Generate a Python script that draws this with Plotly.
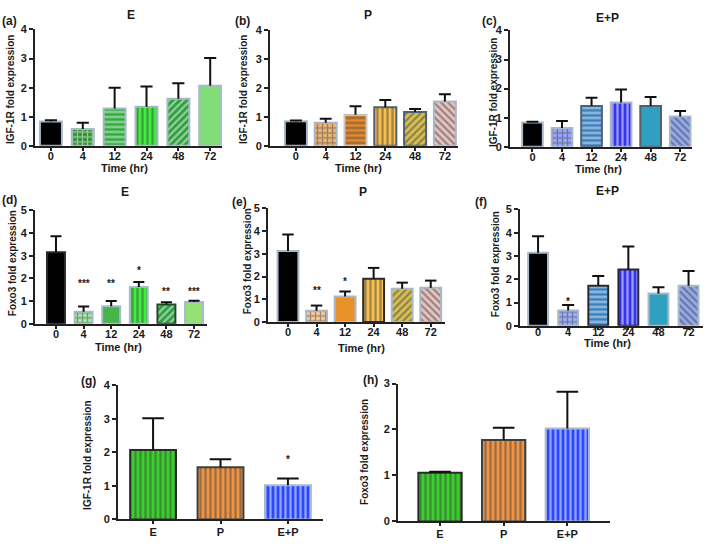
import plotly.graph_objects as go

W, H = 709, 546

# ---------------- data ----------------
time_labels = ["0", "4", "12", "24", "48", "72"]
group_labels = ["E", "P", "E+P"]

igf_E = [0.84, 0.58, 1.28, 1.34, 1.62, 2.07]
igf_E_err = [0.04, 0.21, 0.72, 0.70, 0.53, 0.95]
igf_P = [0.85, 0.80, 1.08, 1.34, 1.17, 1.54]
igf_P_err = [0.03, 0.14, 0.29, 0.25, 0.11, 0.25]
igf_EP = [0.84, 0.65, 1.40, 1.52, 1.40, 1.04]
igf_EP_err = [0.02, 0.24, 0.29, 0.45, 0.31, 0.19]

foxo_E = [3.16, 0.53, 0.78, 1.62, 0.85, 0.96]
foxo_E_err = [0.70, 0.23, 0.23, 0.22, 0.10, 0.06]
foxo_P = [3.13, 0.49, 1.12, 1.90, 1.46, 1.50]
foxo_P_err = [0.72, 0.23, 0.22, 0.48, 0.27, 0.32]
foxo_EP = [3.14, 0.66, 1.72, 2.42, 1.39, 1.72]
foxo_EP_err = [0.71, 0.23, 0.42, 0.99, 0.27, 0.63]

igf_72h = [2.07, 1.56, 1.02]
igf_72h_err = [0.95, 0.24, 0.20]
foxo_72h = [1.06, 1.77, 2.02]
foxo_72h_err = [0.02, 0.27, 0.80]

# significance marks and the level they are written at
stars_foxo_E = ["", "***", "**", "*", "**", "***"]
stars_foxo_E_level = [0, 1.79, 1.79, 2.36, 1.43, 1.43]
stars_foxo_P = ["", "**", "*", "", "", ""]
stars_foxo_P_level = [0, 1.38, 1.77, 0, 0, 0]
stars_foxo_EP = ["", "*", "", "", "", ""]
stars_foxo_EP_level = [0, 1.06, 0, 0, 0, 0]
stars_igf_72h = ["", "", "*"]
stars_igf_72h_level = [0, 0, 1.80]

# ---------------- styles ----------------
LB = "#a9b9c9"   # light bluish-grey bar border
DK = "#2a2a2a"
MG = "#506070"

sty_E = dict(
    bg=["#000000", "#2f8f2f", "#2eaa3e", "#3cf03c", "#2e9e3e", "#80dd78"],
    fg=["#000000", "#58d058", "#1c7a2a", "#1fbf1f", "#145e22", "#80dd78"],
    shape=["", "+", "-", "|", "/", ""],
    edge=[LB, LB, LB, LB, LB, LB])
sty_P = dict(
    bg=["#000000", "#f2b878", "#e88a2c", "#f8c04c", "#d8c050", "#e8c4c0"],
    fg=["#000000", "#c8783a", "#cf7020", "#e09a1c", "#8a7a2c", "#c49090"],
    shape=["", "+", "-", "|", "/", "\\"],
    edge=[LB, LB, "#c8c8c8", MG, MG, LB])
sty_EP = dict(
    bg=["#000000", "#9aa8ff", "#3a80c0", "#3434f0", "#30a0c0", "#94aaf0"],
    fg=["#000000", "#1222e0", "#1a5090", "#1010a8", "#2a8aa8", "#5070d0"],
    shape=["", "+", "-", "|", "", "\\"],
    edge=[LB, LB, MG, LB, MG, LB])
sty_Ed = dict(
    bg=["#000000", "#a6eaa6", "#46b446", "#3cf03c", "#2e9e3e", "#94e274"],
    fg=["#000000", "#42c242", "#3a9a3a", "#1fbf1f", "#145e22", "#94e274"],
    shape=["", "+", "", "|", "/", ""],
    edge=[DK, LB, LB, LB, "#244a2a", LB])
sty_Pe = dict(
    bg=["#000000", "#f8cc98", "#e8902a", "#f8c050", "#d8c050", "#e8c4c0"],
    fg=["#000000", "#d09050", "#d07820", "#e0a030", "#8a7a2c", "#c49090"],
    shape=["", "+", "", "|", "/", "\\"],
    edge=[LB, LB, LB, DK, LB, LB])
sty_EPf = dict(
    bg=["#000000", "#a0b0ff", "#3a80c0", "#3434f0", "#30a0c0", "#94aaf0"],
    fg=["#000000", "#1020e0", "#1a5090", "#1010a8", "#2a8aa8", "#5070d0"],
    shape=["", "+", "-", "|", "", "\\"],
    edge=[LB, LB, DK, DK, LB, LB])
sty_grp = dict(
    bg=["#38d02a", "#f09444", "#2a48ff"],
    fg=["#138a13", "#c06a20", "#1122aa"],
    shape=["|", "|", "|"],
    edge=[DK, "#3a4040", LB])

IGF_T = "IGF-1R fold expression"
FOX_T = "Foxo3 fold expression"

panels = [
    dict(lab="(a)", title="E", cats=time_labels, v=igf_E, e=igf_E_err, s=sty_E,
         x0=35, x1=222, yt=24, yb=143, ymax=4, xr=[-0.5, 5.37], w=0.69, cap=0.19, tl=3, so=-4,
         labpos=(9, 15), tpos=(131, 9), ytitle=IGF_T, ytpos=(10, 86), xtpos=(124, 166)),
    dict(lab="(b)", title="P", cats=time_labels, v=igf_P, e=igf_P_err, s=sty_P,
         x0=270, x1=458, yt=25, yb=143, ymax=4, xr=[-0.87, 5.44], w=0.74, cap=0.2, tl=3, so=-4,
         labpos=(242, 15), tpos=(368, 9), ytitle=IGF_T, ytpos=(243, 86), xtpos=(358, 166)),
    dict(lab="(c)", title="E+P", cats=time_labels, v=igf_EP, e=igf_EP_err, s=sty_EP,
         x0=510, x1=692, yt=25, yb=144, ymax=4, xr=[-0.76, 5.4], w=0.7, cap=0.2, tl=3, so=-4,
         labpos=(489, 15), tpos=(607, 12), ytitle=IGF_T, ytpos=(493, 89), xtpos=(598, 167)),
    dict(lab="(d)", title="E", cats=time_labels, v=foxo_E, e=foxo_E_err, s=sty_Ed,
         x0=35, x1=207, yt=209, yb=325, ymax=5, xr=[-0.76, 5.47], w=0.65, cap=0.2, tl=3, so=-4,
         labpos=(9, 198), tpos=(125, 190), ytitle=FOX_T, ytpos=(12, 263), xtpos=(119, 349),
         stars=stars_foxo_E, starlev=stars_foxo_E_level),
    dict(lab="(e)", title="P", cats=time_labels, v=foxo_P, e=foxo_P_err, s=sty_Pe,
         x0=268, x1=445, yt=207, yb=323, ymax=5, xr=[-0.7, 5.5], w=0.73, cap=0.2, tl=3, so=-4,
         labpos=(240, 200), tpos=(363, 190), ytitle=FOX_T, ytpos=(247, 261), xtpos=(361, 350),
         stars=stars_foxo_P, starlev=stars_foxo_P_level),
    dict(lab="(f)", title="E+P", cats=time_labels, v=foxo_EP, e=foxo_EP_err, s=sty_EPf,
         x0=520, x1=703, yt=208, yb=327, ymax=5, xr=[-0.6, 5.48], w=0.66, cap=0.2, tl=2, so=-7,
         labpos=(481, 200), tpos=(607, 189), ytitle=FOX_T, ytpos=(495, 264), xtpos=(607, 345),
         stars=stars_foxo_EP, starlev=stars_foxo_EP_level),
    dict(lab="(g)", title="", cats=group_labels, v=igf_72h, e=igf_72h_err, s=sty_grp,
         x0=118, x1=323, yt=388, yb=525, ymax=4, xr=[-0.52, 2.52], w=0.68, cap=0.16, tl=3, so=-2,
         labpos=(88, 383), tpos=None, ytitle=IGF_T, ytpos=(88, 460), xtpos=None,
         stars=stars_igf_72h, starlev=stars_igf_72h_level),
    dict(lab="(h)", title="", cats=group_labels, v=foxo_72h, e=foxo_72h_err, s=sty_grp,
         x0=398, x1=610, yt=386, yb=527, ymax=3, xr=[-0.66, 2.67], w=0.68, cap=0.17, tl=3, so=-2,
         labpos=(370, 382), tpos=None, ytitle=FOX_T, ytpos=(365, 456), xtpos=None),
]

FONT = "Liberation Sans, Arial, sans-serif"
TXT = "#1a1a1a"

fig = go.Figure()
layout = dict(width=W, height=H, margin=dict(l=0, r=0, t=0, b=0, pad=0),
              paper_bgcolor="white", plot_bgcolor="white", showlegend=False,
              font=dict(family=FONT, color=TXT))
annotations = []


def px(x, y):
    return x / W, 1 - y / H


for k, p in enumerate(panels):
    n = k + 1
    xs = "x" if n == 1 else f"x{n}"
    ys = "y" if n == 1 else f"y{n}"
    xk = "xaxis" if n == 1 else f"xaxis{n}"
    yk = "yaxis" if n == 1 else f"yaxis{n}"
    idx = list(range(len(p["cats"])))
    s = p["s"]
    fig.add_trace(go.Bar(
        x=idx, y=p["v"], width=p["w"], xaxis=xs, yaxis=ys,
        marker=dict(color=s["bg"], line=dict(color=s["edge"], width=2),
                    pattern=dict(shape=s["shape"], fgcolor=s["fg"],
                                 size=5, solidity=0.45, fillmode="overlay")),
        hoverinfo="skip"))
    # upper error bars with caps
    ex, ey = [], []
    for i, (val, err) in zip(idx, zip(p["v"], p["e"])):
        top = val + err
        ex += [i, i, None, i - p["cap"], i + p["cap"], None]
        ey += [val, top, None, top, top, None]
    fig.add_trace(go.Scatter(x=ex, y=ey, mode="lines", xaxis=xs, yaxis=ys,
                             line=dict(color="#111111", width=2), hoverinfo="skip"))

    layout[xk] = dict(domain=[p["x0"] / W, p["x1"] / W], range=p["xr"], anchor=ys,
                      showline=True, linecolor="#222222", linewidth=1.8,
                      ticks="outside", ticklen=p["tl"], tickwidth=1.5, tickcolor="#222222",
                      ticklabelstandoff=p["so"],
                      tickvals=idx, ticktext=p["cats"], showgrid=False, zeroline=False,
                      tickfont=dict(family=FONT, size=11, color=TXT, weight="bold"))
    layout[yk] = dict(domain=[1 - p["yb"] / H, 1 - p["yt"] / H], range=[0, p["ymax"]],
                      anchor=xs, showline=True, linecolor="#222222", linewidth=1.8,
                      ticks="outside", ticklen=4, tickwidth=1.5, tickcolor="#222222",
                      dtick=1, tick0=0, showgrid=False, zeroline=False,
                      tickfont=dict(family=FONT, size=11, color=TXT, weight="bold"))

    # panel label
    lx, ly = px(*p["labpos"])
    annotations.append(dict(x=lx, y=ly, xref="paper", yref="paper", text=p["lab"],
                            showarrow=False, xanchor="center", yanchor="middle",
                            font=dict(size=12, weight="bold", color=TXT)))
    if p["tpos"]:
        tx, ty = px(*p["tpos"])
        annotations.append(dict(x=tx, y=ty, xref="paper", yref="paper", text=p["title"],
                                showarrow=False, xanchor="center", yanchor="middle",
                                font=dict(size=12, weight="bold", color=TXT)))
    yx, yy = px(*p["ytpos"])
    annotations.append(dict(x=yx, y=yy, xref="paper", yref="paper", text=p["ytitle"],
                            showarrow=False, xanchor="center", yanchor="middle",
                            textangle=-90, font=dict(size=10, weight="bold", color=TXT)))
    if p["xtpos"]:
        tx, ty = px(*p["xtpos"])
        annotations.append(dict(x=tx, y=ty, xref="paper", yref="paper", text="Time (hr)",
                                showarrow=False, xanchor="center", yanchor="middle",
                                font=dict(size=11, weight="bold", color=TXT)))
    if "stars" in p:
        for i, (st, lv) in enumerate(zip(p["stars"], p["starlev"])):
            if st:
                annotations.append(dict(x=i, y=lv, xref=xs, yref=ys, text=st,
                                        showarrow=False, xanchor="center", yanchor="middle",
                                        font=dict(size=10, weight="bold", color=TXT)))

layout["annotations"] = annotations
fig.update_layout(**layout)
fig.write_html("out.html", config={"displayModeBar": False},
               post_script="document.body.style.margin='0px';document.body.style.padding='0px';")
